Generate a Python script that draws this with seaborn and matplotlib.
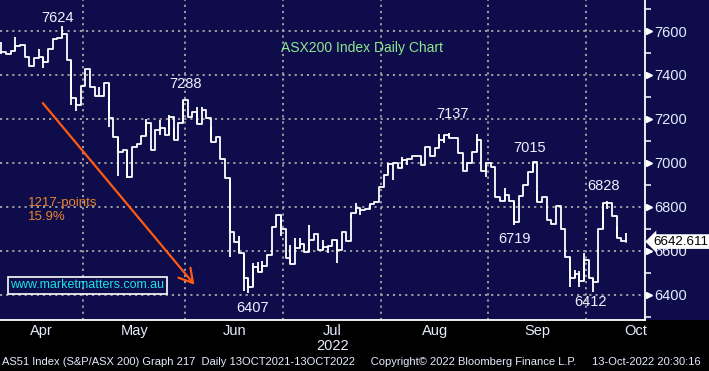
import matplotlib
matplotlib.use("Agg")
import matplotlib.pyplot as plt
import matplotlib.transforms as mtransforms
from matplotlib.patches import Rectangle, FancyArrowPatch
import seaborn as sns
import pandas as pd

# ---------------- data ----------------
closes = [
    7506, 7494, 7511, 7532, 7536, 7483, 7442, 7476, 7480, 7458,
    7518, 7562, 7567, 7586, 7468, 7294, 7264, 7351,            # Apr (0-17)
    7427, 7347, 7305, 7305, 7362, 7203, 7118, 7051, 7061, 6936,
    7073, 7086, 7124, 7180, 7061, 7150, 7158, 7127, 7210, 7106,
    7180, 7286,                                                # May (18-39)
    7210, 7233, 7177, 7241, 7203, 7094, 7118, 7018, 6930, 6686,
    6642, 6590, 6476, 6435, 6529, 6506, 6532, 6582, 6711, 6764,
    6699,                                                      # Jun (40-60)
    6567, 6539, 6612, 6632, 6597, 6650, 6677, 6605, 6620, 6623,
    6650, 6605, 6688, 6647, 6774, 6794, 6786, 6790, 6812, 6824,
    6890,                                                      # Jul (61-81)
    6944, 6995, 6998, 6977, 7014, 7017, 7030, 7033, 6992, 7074,
    7032, 7068, 7105, 7127, 7112, 7112, 7047, 6964, 6998, 7050,
    7105, 6964, 6998,                                          # Aug (82-104)
    6983, 6844, 6827, 6853, 6827, 6730, 6850, 6900, 6960, 7006,
    6824, 6844, 6741, 6723, 6806, 6699, 6574, 6476, 6495, 6464,
    6559,                                                      # Sep (105-125)
    6476, 6461, 6699, 6817, 6820, 6760, 6658, 6643, 6642.611,  # Oct (126-134)
]
spike_days = [0, 3, 8, 9, 13, 15, 16, 21, 23, 25, 27, 31, 34, 36, 37, 39, 42, 43,
              45, 49, 51, 52, 53, 54, 55, 56, 60, 62, 63, 64, 66, 69, 70, 72, 75,
              76, 77, 79, 83, 84, 86, 87, 94, 95, 96, 102, 104, 108, 110, 114,
              115, 122, 123, 124, 125, 127, 129, 130, 132, 134]
spike_lo = [7494, 7511, 7476, 7430, 7586, 7264, 7236, 7305, 7165, 6940, 6930, 7124, 7127, 7127, 7106, 7180, 7177, 7233,
            7094, 6571, 6590, 6416, 6407, 6435, 6506, 6506, 6670, 6539, 6612, 6612, 6597, 6605, 6590, 6545, 6750,
            6774, 6765, 6790, 6955, 6922, 6977, 6990, 7068, 7090, 7112, 7050, 6938, 6827, 6719, 6960,
            6824, 6438, 6476, 6438, 6464, 6412, 6699, 6790, 6658, 6643]
spike_hi = [7551, 7571, 7518, 7480, 7624, 7468, 7294, 7347, 7362, 7118, 7061, 7200, 7195, 7220, 7160, 7288, 7253, 7253,
            7165, 6930, 6667, 6590, 6476, 6544, 6550, 6555, 6764, 6627, 6660, 6660, 6718, 6650, 6623, 6650, 6774,
            6817, 6794, 6812, 6998, 6998, 7025, 7017, 7132, 7127, 7137, 7130, 6998, 6888, 6827, 7006,
            6873, 6574, 6515, 6510, 6592, 6476, 6817, 6828, 6711, 6683]

month_labels = ["Apr", "May", "Jun", "Jul", "Aug", "Sep", "Oct"]
month_starts = [0, 18, 40, 61, 82, 105, 126]
month_ends = [17, 39, 60, 81, 104, 125, 134]

peak_labels = ["7624", "7288", "7137", "7015", "6719", "6828", "6407", "6412"]
peak_days = [12, 39.4, 96.7, 113.4, 110.2, 129.1, 53.8, 126.3]
peak_values = [7660, 7359, 7223, 7068, 6655, 6895, 6341, 6368]

ytick_values = [6400, 6600, 6800, 7000, 7200, 7400, 7600]

df = pd.DataFrame({"day": range(len(closes)), "close": closes})

# ---------------- style ----------------
NAVY = "#0e0c4b"
sns.set_theme(style="dark")
plt.rcParams["font.family"] = ["Liberation Sans", "DejaVu Sans"]

fig = plt.figure(figsize=(7.09, 3.71), dpi=100, facecolor="black")
fig.patches.append(Rectangle((0, 51 / 371), 1, 1, transform=fig.transFigure,
                             facecolor=NAVY, edgecolor="none", zorder=-10))
ax = fig.add_axes([0, 51 / 371, 645 / 709, 320 / 371])
ax.set_facecolor(NAVY)

xmin, xmax = -0.3, 138.1
ymin, ymax = 6286, 7741

# gridlines
for v in ytick_values:
    ax.axhline(v, color="#a8a8a8", lw=1.3, ls=(0, (1.2, 2.2)), zorder=1)
for s in month_starts[1:]:
    ax.axvline(s - 0.5, color="#a8a8a8", lw=1.3, ls=(0, (1.2, 2.2)), zorder=1)

# price bars
sns.lineplot(data=df, x="day", y="close", drawstyle="steps-post", color="white",
             lw=1.3, ax=ax, zorder=3)
ax.vlines(spike_days, spike_lo, spike_hi, color="white", lw=1.3, zorder=3)

ax.set_xlim(xmin, xmax)
ax.set_ylim(ymin, ymax)

# spines
for sp in ["top", "left"]:
    ax.spines[sp].set_visible(False)
ax.spines["right"].set_color("white")
ax.spines["right"].set_linewidth(1.3)
ax.spines["bottom"].set_color("white")
ax.spines["bottom"].set_linewidth(1.3)

# y ticks on right
ax.yaxis.tick_right()
ax.set_yticks(ytick_values)
ax.set_yticklabels([str(v) for v in ytick_values], color="#e6ecff", fontsize=10.5)
ax.set_yticks([6300, 6500, 6700, 6900, 7100, 7300, 7500, 7700], minor=True)
ax.tick_params(axis="y", which="major", length=0, pad=7)
ax.tick_params(axis="y", which="minor", length=4, width=1.1, color="white", direction="out")
ytr = mtransforms.blended_transform_factory(ax.transAxes, ax.transData)
ax.plot([1.006] * len(ytick_values), ytick_values, marker=">", ms=5, color="white",
        ls="none", transform=ytr, clip_on=False, zorder=5)

# x ticks
ax.set_xticks([s - 0.5 for s in month_starts[1:]])
ax.set_xticklabels([])
ax.tick_params(axis="x", which="major", length=4, width=1.1, color="white", direction="out")
xtr = mtransforms.blended_transform_factory(ax.transData, ax.transAxes)
for lab, s, e in zip(month_labels, month_starts, month_ends):
    c = (s + e) / 2 if lab != "Oct" else 136
    ax.text(c, -11 / 320, lab, transform=xtr, ha="center", va="center", color="#e6ecff", fontsize=10.5)
ax.text(71, -26 / 320, "2022", transform=xtr, ha="center", va="center", color="#e6ecff", fontsize=10.5)
ax.set_xlabel("")
ax.set_ylabel("")

# peak labels
for lab, d, v in zip(peak_labels, peak_days, peak_values):
    ax.text(d, v, lab, ha="center", va="center", color="#eef2ff", fontsize=10.5, zorder=6)

# title
ax.text(362 / 645, 1 - 48 / 320, "ASX200 Index Daily Chart", transform=ax.transAxes,
        ha="center", va="center", color="#8ee88e", fontsize=10)

# drawdown arrow and text
arrow = FancyArrowPatch((8.5, 7282), (41.8, 6437), arrowstyle="->,head_length=6,head_width=3.5",
                        color="#ff5a10", lw=1.6, zorder=4, mutation_scale=1.6)
ax.add_patch(arrow)
ax.text(28 / 645, 1 - 203 / 320, "1217-points", transform=ax.transAxes, ha="left", va="center",
        color="#e8842c", fontsize=9.5)
ax.text(28 / 645, 1 - 217 / 320, "15.9%", transform=ax.transAxes, ha="left", va="center",
        color="#e8842c", fontsize=9.5)

# website box
ax.text(10 / 645, 1 - 285 / 320, "www.marketmatters.com.au", transform=ax.transAxes,
        ha="left", va="center", color="#19e3e6", fontsize=9,
        bbox=dict(boxstyle="square,pad=0.2", fc="none", ec="white", lw=1.2))

# last price tag
ax.text(653 / 645, closes[-1], f"{closes[-1]:.3f}", transform=ytr, ha="left", va="center",
        color="black", fontsize=9.6, zorder=7,
        bbox=dict(boxstyle="larrow,pad=0.1", fc="white", ec="none"))

# footer
fig.text(0.003, 9 / 371, "AS51 Index (S&P/ASX 200) Graph 217  Daily 13OCT2021-13OCT2022     "
         "Copyright\u00a9 2022 Bloomberg Finance L.P.     13-Oct-2022 20:30:16",
         ha="left", va="center", color="#e6ecff", fontsize=8.05)

fig.savefig("out.png", dpi=100, facecolor=fig.get_facecolor())
